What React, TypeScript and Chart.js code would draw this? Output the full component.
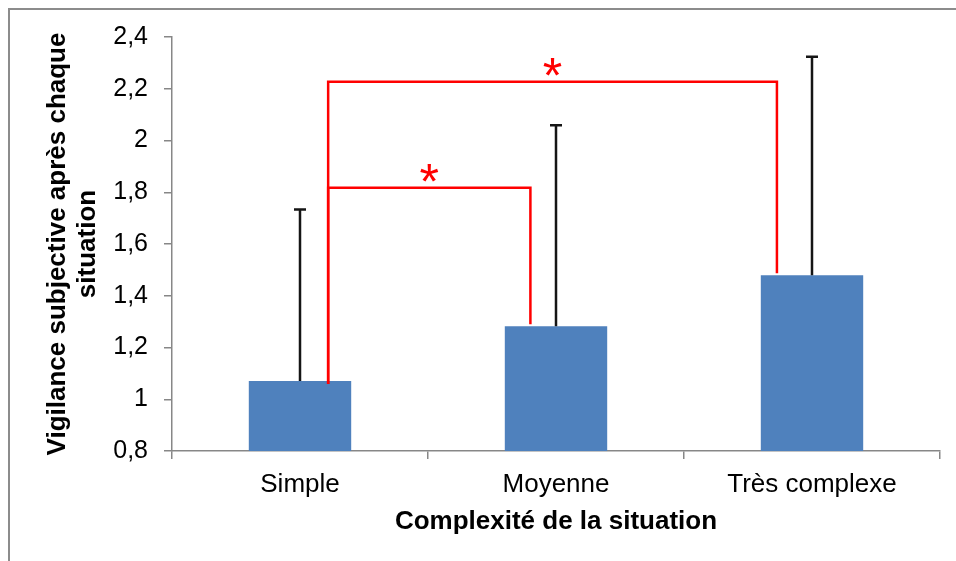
import { useEffect, useRef } from "react";
import { Chart, registerables } from "chart.js";

Chart.register(...registerables);

const categories = ["Simple", "Moyenne", "Très complexe"];
const meanValues = [1.071, 1.282, 1.479];
const sdValues = [0.662, 0.777, 0.845];
const yTickValues = [0.8, 1, 1.2, 1.4, 1.6, 1.8, 2, 2.2, 2.4];
const yTickLabels = ["0,8", "1", "1,2", "1,4", "1,6", "1,8", "2", "2,2", "2,4"];

// significance brackets (category indexes + height on the y scale)
const bracketFrom = [0, 0];
const bracketTo = [1, 2];
const bracketLevel = [1.817, 2.227];
const bracketMark = ["*", "*"];

const FONT = "'Liberation Sans', Arial, sans-serif";
const AXIS_GREY = "#878787";
const BAR_BLUE = "#4f81bd";

const errorBarsPlugin = {
  id: "errorBars",
  afterDatasetsDraw(chart: any) {
    const { ctx } = chart;
    const y = chart.scales.y;
    const meta = chart.getDatasetMeta(0);
    ctx.save();
    ctx.strokeStyle = "#151515";
    ctx.lineWidth = 2.5;
    meta.data.forEach((bar: any, i: number) => {
      const base = y.getPixelForValue(meanValues[i]);
      const top = y.getPixelForValue(meanValues[i] + sdValues[i]);
      ctx.beginPath();
      ctx.moveTo(bar.x, base);
      ctx.lineTo(bar.x, top);
      ctx.moveTo(bar.x - 6, top);
      ctx.lineTo(bar.x + 6, top);
      ctx.stroke();
    });
    ctx.restore();
  },
};

// how far the legs sit from the bar centres, in fractions of a category
const leftLeg = 0.11;
const rightLeg = [0.1, 0.137];

const bracketsPlugin = {
  id: "brackets",
  afterDatasetsDraw(chart: any) {
    const { ctx } = chart;
    const x = chart.scales.x;
    const y = chart.scales.y;
    const band = x.width / categories.length;
    ctx.save();
    ctx.strokeStyle = "#ff0000";
    ctx.fillStyle = "#ff0000";
    ctx.lineWidth = 2.5;
    ctx.font = `50px ${FONT}`;
    ctx.textAlign = "center";
    ctx.textBaseline = "alphabetic";
    bracketFrom.forEach((from, i) => {
      const to = bracketTo[i];
      const x0 = x.getPixelForValue(from) + band * leftLeg;
      const x1 = x.getPixelForValue(to) - band * rightLeg[i];
      const yl = y.getPixelForValue(bracketLevel[i]);
      const y0 = y.getPixelForValue(meanValues[from]) + 3;
      const y1 = y.getPixelForValue(meanValues[to]) - 2;
      ctx.beginPath();
      ctx.moveTo(x0, y0);
      ctx.lineTo(x0, yl);
      ctx.lineTo(x1, yl);
      ctx.lineTo(x1, y1);
      ctx.stroke();
      const m = ctx.measureText(bracketMark[i]);
      const cy = yl - 15;
      ctx.fillText(
        bracketMark[i],
        (x0 + x1) / 2,
        cy + (m.actualBoundingBoxAscent - m.actualBoundingBoxDescent) / 2,
      );
    });
    ctx.restore();
  },
};

function VigilanceChart() {
  const chartRef = useRef<HTMLCanvasElement>(null);

  useEffect(() => {
    if (!chartRef.current) return;
    const ctx = chartRef.current.getContext("2d");
    if (!ctx) return;

    const chart = new Chart(ctx, {
      type: "bar",
      data: {
        labels: categories,
        datasets: [
          {
            data: meanValues,
            backgroundColor: BAR_BLUE,
            borderWidth: 0,
            barPercentage: 0.4,
            categoryPercentage: 1,
          },
        ],
      },
      options: {
        animation: false,
        responsive: true,
        maintainAspectRatio: false,
        layout: { padding: { top: 27, right: 16, left: 0, bottom: 0 } },
        plugins: {
          legend: { display: false },
          tooltip: { enabled: false },
        },
        scales: {
          x: {
            grid: {
              drawOnChartArea: false,
              tickLength: 8,
              color: AXIS_GREY,
              lineWidth: 1.5,
              offset: true,
            },
            border: { color: AXIS_GREY, width: 1.5 },
            ticks: {
              color: "#000",
              padding: 10,
              maxRotation: 0,
              font: { family: FONT, size: 26, lineHeight: 1.2 },
            },
            title: {
              display: true,
              text: "Complexité de la situation",
              color: "#000",
              font: { family: FONT, size: 26, weight: "bold", lineHeight: 1.2 },
              padding: { top: 0, bottom: 24 },
            },
            afterFit: (scale: any) => {
              scale.height = 110;
            },
          },
          y: {
            min: 0.8,
            max: 2.4,
            afterBuildTicks: (scale: any) => {
              scale.ticks = yTickValues.map((v) => ({ value: v }));
            },
            grid: {
              drawOnChartArea: false,
              tickLength: 8,
              color: AXIS_GREY,
              lineWidth: 1.5,
            },
            border: { color: AXIS_GREY, width: 1.5 },
            ticks: {
              color: "#000",
              padding: 16,
              font: { family: FONT, size: 25, lineHeight: 1.2 },
              callback: (_value: any, index: number) => yTickLabels[index],
            },
            title: {
              display: true,
              text: ["Vigilance subjective après chaque", "situation"],
              color: "#000",
              font: { family: FONT, size: 26, weight: "bold", lineHeight: 1.15 },
              padding: { top: 33, bottom: 0 },
            },
            afterFit: (scale: any) => {
              scale.width = 162;
              // the label padding would otherwise push the plot area down
              scale.paddingTop = 0;
              scale.paddingBottom = 0;
            },
          },
        },
      },
      plugins: [errorBarsPlugin, bracketsPlugin],
    });

    return () => chart.destroy();
  }, []);

  return (
    <div
      style={{
        position: "fixed",
        left: 8,
        top: 8,
        width: 948,
        height: 553,
        boxSizing: "border-box",
        borderLeft: "2px solid #8c8c8c",
        borderTop: "2px solid #8c8c8c",
        background: "#fff",
      }}
    >
      <div style={{ position: "relative", width: 946, height: 551 }}>
        <canvas ref={chartRef} />
      </div>
    </div>
  );
}

export default function App() {
  return <VigilanceChart />;
}
